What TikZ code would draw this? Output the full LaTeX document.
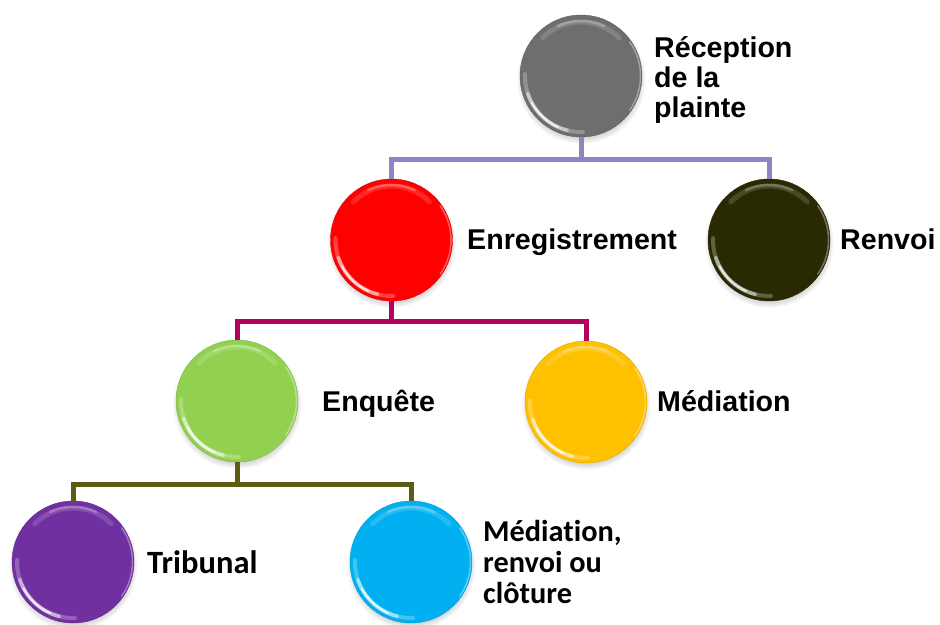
\documentclass[tikz,border=0pt]{standalone}
\usepackage{fontspec}
\setmainfont{Liberation Sans}
\newfontfamily\calfont[Ligatures=NoCommon]{Carlito}
\usetikzlibrary{shadows,fadings,calc}
\definecolor{cgray}{HTML}{6E6E6E}
\definecolor{cred}{HTML}{FF0000}
\definecolor{cdark}{HTML}{2A2A02}
\definecolor{cgreen}{HTML}{92D050}
\definecolor{cyellow}{HTML}{FFC000}
\definecolor{cpurple}{HTML}{7030A0}
\definecolor{ccyan}{HTML}{00B0F0}
\definecolor{lperi}{HTML}{8C86C2}
\definecolor{lmag}{HTML}{B5005C}
\definecolor{lolive}{HTML}{5C5C12}
\newcommand\glossy{%
  \coordinate (pc) at (path picture bounding box.center);
  % top highlight (soft)
  \draw[white, opacity=.15, line width=5pt, line cap=round]
    ($(pc)+(45:54)$) arc[start angle=45, end angle=135, radius=54];
  \draw[white, opacity=.25, line width=2.5pt, line cap=round]
    ($(pc)+(65:55)$) arc[start angle=65, end angle=115, radius=55];
  % lower-left crescent
  \draw[white, opacity=.25, line width=4pt, line cap=round]
    ($(pc)+(178:56)$) arc[start angle=178, end angle=272, radius=56];
  \draw[white, opacity=.5, line width=3.5pt, line cap=round]
    ($(pc)+(198:56)$) arc[start angle=198, end angle=256, radius=56];
  \draw[white, opacity=.75, line width=1.8pt, line cap=round]
    ($(pc)+(208:56)$) arc[start angle=208, end angle=246, radius=56];
  % right rim
  \draw[white, opacity=.35, line width=1.5pt, line cap=round]
    ($(pc)+(-35:59.5)$) arc[start angle=-35, end angle=35, radius=59.5];
}
\tikzset{
  ball/.style={circle, minimum size=122pt, inner sep=0pt, fill=#1,
    draw=#1!88!black, line width=0.4pt,
    circular drop shadow={shadow xshift=0pt, shadow yshift=-3pt, shadow scale=1.06, opacity=.45},
    path picture={\glossy}},
  lbl/.style={anchor=base west, inner sep=0pt, align=left,
    font=\bfseries\fontsize{28.6}{30}\selectfont},
  cal/.style={anchor=base west, inner sep=0pt, align=left,
    font=\calfont\bfseries\fontsize{30.3}{31}\selectfont},
  conn/.style={line width=5pt, #1, line join=miter, line cap=butt},
}
\begin{document}
\begin{tikzpicture}[x=1pt,y=1pt]
\useasboundingbox (0,0) rectangle (940,-624);
\node[ball=cgray]   (g)  at (581,-76) {};
\node[ball=cred]    (r)  at (391.5,-240) {};
\node[ball=cdark]   (d)  at (769,-240) {};
\node[ball=cgreen]  (gr) at (237,-401) {};
\node[ball=cyellow] (y)  at (586,-402) {};
\node[ball=cpurple] (p)  at (73,-562) {};
\node[ball=ccyan]   (c)  at (411,-562) {};
\draw[conn=lperi] (g.south) -- ++(0,-22) coordinate (j1) -| (r.north);
\draw[conn=lperi] (j1) -| (d.north);
\draw[conn=lmag] (r.south) -- ++(0,-20) coordinate (j2) -| (gr.north);
\draw[conn=lmag] (j2) -| (y.north);
\draw[conn=lolive] (gr.south) -- ++(0,-22) coordinate (j3) -| (p.north);
\draw[conn=lolive] (j3) -| (c.north);
% labels (base = baseline of last line)
\node[lbl] (t1) at (654,-117) {Réception\\de la\\plainte};
\node[lbl] (t2) at (467,-249) {Enregistrement};
\node[lbl] (t3) at (840,-249) {Renvoi};
\node[lbl] (t4) at (322,-411) {Enquête};
\node[lbl] (t5) at (657,-411) {Médiation};
\node[cal, font=\calfont\bfseries\fontsize{32.5}{33}\selectfont] (t6) at (147,-573) {Tribunal};
\node[cal] (t7) at (483,-603) {Médiation,\\renvoi ou\\clôture};
\end{tikzpicture}
\end{document}
